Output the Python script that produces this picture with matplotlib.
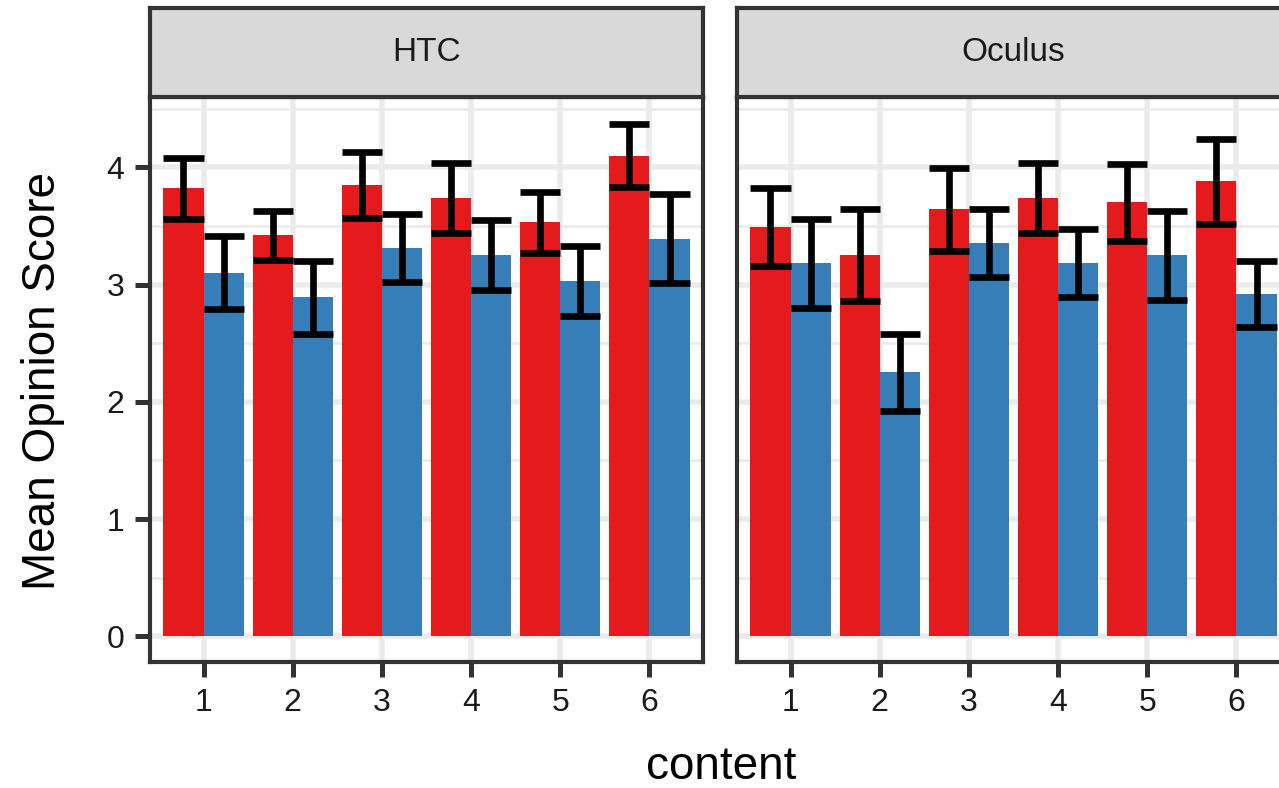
import matplotlib
matplotlib.use("Agg")
import matplotlib.pyplot as plt
import numpy as np

plt.rcParams['font.family'] = ['Liberation Sans', 'DejaVu Sans']

panels = ["HTC", "Oculus"]
content = [1, 2, 3, 4, 5, 6]
tick_labels = ["1", "2", "3", "4", "5", "6"]

htc_red = [3.82, 3.42, 3.85, 3.74, 3.53, 4.10]
htc_red_err = [0.26, 0.21, 0.28, 0.30, 0.26, 0.27]
htc_blue = [3.10, 2.89, 3.31, 3.25, 3.03, 3.39]
htc_blue_err = [0.31, 0.31, 0.29, 0.30, 0.30, 0.38]

oculus_red = [3.49, 3.25, 3.64, 3.74, 3.70, 3.88]
oculus_red_err = [0.33, 0.39, 0.35, 0.30, 0.33, 0.36]
oculus_blue = [3.18, 2.25, 3.35, 3.18, 3.25, 2.92]
oculus_blue_err = [0.38, 0.33, 0.29, 0.29, 0.38, 0.28]

series = {
    "HTC": [(htc_red, htc_red_err), (htc_blue, htc_blue_err)],
    "Oculus": [(oculus_red, oculus_red_err), (oculus_blue, oculus_blue_err)],
}
colors = ["#E41A1C", "#377EB8"]

W, H = 1279, 788
fig = plt.figure(figsize=(W / 100, H / 100), dpi=100)

def fx(px):
    return px / W

def fy(py):
    return 1 - py / H

panel_left = [150, 737]
panel_w = 553
panel_top, panel_bot = 97, 662
strip_top = 8
border_col = "#333333"
grid_col = "#EBEBEB"
text_col = "#1A1A1A"

bw = 0.45
ymin, ymax = -0.219, 4.599
err_lw = 4.8

for i, name in enumerate(panels):
    l = panel_left[i]
    ax = fig.add_axes([fx(l), fy(panel_bot), panel_w / W, (panel_bot - panel_top) / H])
    ax.set_xlim(0.4, 6.6)
    ax.set_ylim(ymin, ymax)
    ax.set_facecolor("white")
    # grid
    for yv in np.arange(0.5, 4.6, 1.0):
        ax.axhline(yv, color=grid_col, lw=2.0, zorder=0)
    for yv in range(0, 5):
        ax.axhline(yv, color=grid_col, lw=4.0, zorder=0)
    for xv in content:
        ax.axvline(xv, color=grid_col, lw=4.0, zorder=0)
    x = np.array(content, dtype=float)
    for k, (vals, errs) in enumerate(series[name]):
        xs = x - bw / 2 + k * bw
        vals = np.array(vals)
        errs = np.array(errs)
        ax.bar(xs, vals, width=bw, color=colors[k], zorder=2, linewidth=0)
        ax.vlines(xs, vals - errs, vals + errs, color="black", lw=err_lw, zorder=3)
        ax.hlines(vals - errs, xs - bw / 2, xs + bw / 2, color="black", lw=err_lw, zorder=3)
        ax.hlines(vals + errs, xs - bw / 2, xs + bw / 2, color="black", lw=err_lw, zorder=3)
    ax.set_xticks(content)
    ax.set_xticklabels(tick_labels)
    ax.set_yticks([0, 1, 2, 3, 4])
    ax.tick_params(axis="both", labelsize=23, colors=border_col, width=3.6, length=10.5,
                   labelcolor=text_col, pad=8)
    if i == 0:
        ax.set_yticklabels(["0", "1", "2", "3", "4"])
    else:
        ax.set_yticklabels([])
        ax.tick_params(axis="y", length=0)
    for sp in ax.spines.values():
        sp.set_color(border_col)
        sp.set_linewidth(3.0)
        sp.set_zorder(5)
    if i == 1:
        ax.spines["right"].set_visible(False)
    # strip
    sax = fig.add_axes([fx(l), fy(panel_top), panel_w / W, (panel_top - strip_top) / H])
    sax.set_facecolor("#D9D9D9")
    sax.set_xticks([])
    sax.set_yticks([])
    for sp in sax.spines.values():
        sp.set_color(border_col)
        sp.set_linewidth(3.0)
    if i == 1:
        sax.spines["right"].set_visible(False)
    sax.text(0.5, 0.5, name, transform=sax.transAxes, ha="center", va="center",
             fontsize=24, color=text_col)

fig.text(fx(43), fy(381), "Mean Opinion Score", rotation=90, ha="center", va="center",
         fontsize=33, color="black")
fig.text(fx(721), fy(767), "content", ha="center", va="center", fontsize=33, color="black")

fig.savefig("out.png", dpi=100)
